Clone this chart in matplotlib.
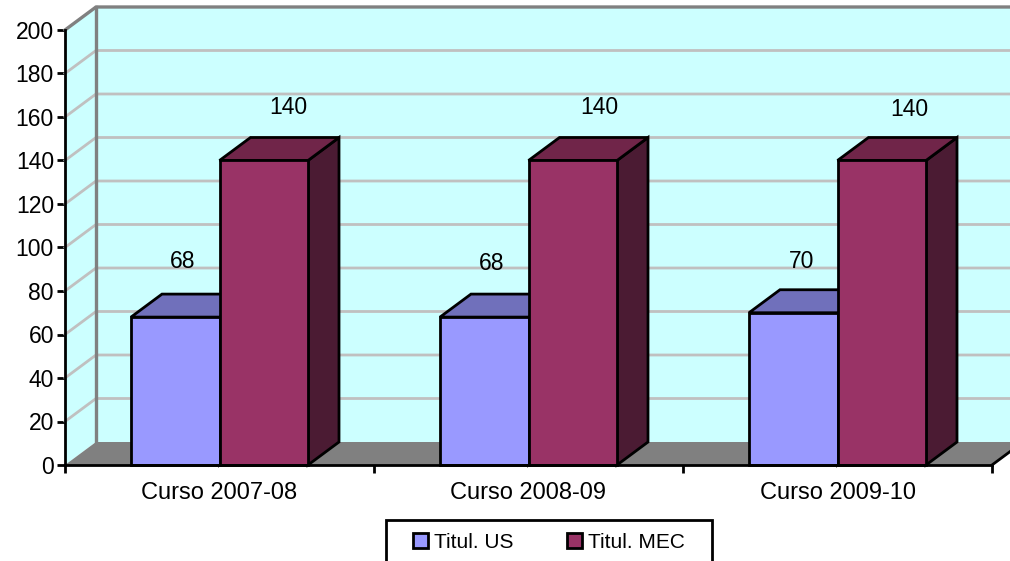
import matplotlib
matplotlib.use("Agg")
import matplotlib.pyplot as plt
from matplotlib.patches import Polygon, Patch, Rectangle

categories = ["Curso 2007-08", "Curso 2008-09", "Curso 2009-10"]
titul_us = [68, 68, 70]
titul_mec = [140, 140, 140]
y_ticks = list(range(0, 201, 20))

W, H = 1010, 561
plt.rcParams['font.family'] = ['Liberation Sans']
fig = plt.figure(figsize=(W / 100, H / 100), dpi=100)
ax = fig.add_axes([65 / W, 1 - 465 / H, (992 - 65) / W, (465 - 30) / H])
ax.set_xlim(0, 3)
ax.set_ylim(0, 200)
ax.patch.set_visible(False)
for s in ("top", "right"):
    ax.spines[s].set_visible(False)
for s in ("left", "bottom"):
    ax.spines[s].set_linewidth(2.0)
    ax.spines[s].set_zorder(8)

dx = 31 / 309      # depth in category units
dy = 23 / 2.175    # depth in value units
bw = 88.5 / 309
FS = 16.5
CY = "#CCFFFF"
GR = "#808080"
GL = "#C0C0C0"
PX = 0.72          # points per pixel at this dpi


def poly(pts, **kw):
    kw.setdefault("clip_on", False)
    p = Polygon(pts, closed=True, **kw)
    ax.add_patch(p)
    return p


# walls and floor
poly([(dx, dy), (3 + dx, dy), (3 + dx, 200 + dy), (dx, 200 + dy)], fc=CY, ec="none", zorder=1)
poly([(0, 0), (dx, dy), (dx, 200 + dy), (0, 200)], fc=CY, ec="none", zorder=1)
poly([(0, 0), (dx, dy), (3 + dx, dy), (3, 0)], fc=GR, ec="none", zorder=1)
for v in y_ticks[1:-1]:
    ax.plot([0, dx, 3 + dx], [v, v + dy, v + dy], color=GL, lw=2.0, clip_on=False, zorder=2)
ax.plot([0, dx, 3 + dx], [200, 200 + dy, 200 + dy], color=GR, lw=2.4, clip_on=False, zorder=2)
ax.plot([dx, dx], [dy, 200 + dy], color=GR, lw=2.4, zorder=2, clip_on=False)
ax.plot([3, 3 + dx], [0, dy], color="black", lw=2.0, clip_on=False, zorder=2)


def bar3d(x0, v, front, top, side, z):
    x1 = x0 + bw
    kw = dict(ec="black", lw=2.0, joinstyle="miter", zorder=z)
    poly([(x1, 0), (x1 + dx, dy), (x1 + dx, v + dy), (x1, v)], fc=side, **kw)
    poly([(x0, v), (x0 + dx, v + dy), (x1 + dx, v + dy), (x1, v)], fc=top, **kw)
    poly([(x0, 0), (x1, 0), (x1, v), (x0, v)], fc=front, **kw)


C_US = ("#9999FF", "#7070BB", "#55558C")
C_MEC = ("#993366", "#702549", "#4B1B33")
for i in range(3):
    c = i + 0.5
    bar3d(c - bw, titul_us[i], *C_US, 3)
    bar3d(c, titul_mec[i], *C_MEC, 4)

# pixel offsets of the data labels from the front top edge of their bar
us_off = [(0, 56), (0, 54), (1, 51)]
mec_off = [(9, 52.5), (11, 52.5), (12, 50.5)]
for i in range(3):
    c = i + 0.5
    ax.annotate(str(titul_us[i]), (c - bw / 2 + dx / 2, titul_us[i]),
                xytext=((us_off[i][0] - 8.3) * PX, us_off[i][1] * PX),
                textcoords="offset points", ha="center", va="center", fontsize=FS, zorder=9, annotation_clip=False)
    ax.annotate(str(titul_mec[i]), (c + bw / 2 + dx / 2, titul_mec[i]),
                xytext=(mec_off[i][0] * PX, mec_off[i][1] * PX),
                textcoords="offset points", ha="center", va="center", fontsize=FS, zorder=9, annotation_clip=False)

ax.set_yticks(y_ticks)
ax.set_xticks(range(4))
ax.set_xticklabels([])
ax.tick_params(axis="y", length=6, width=2.0, labelsize=FS, pad=2)
ax.tick_params(axis="x", length=6, width=2.0)
ax.set_xticks([i + 0.5 for i in range(3)], minor=True)
ax.set_xticklabels(categories, minor=True, fontsize=17)
ax.tick_params(axis="x", which="minor", length=0, pad=12.5)

# legend frame runs off the bottom of the picture
fig.add_artist(Rectangle((386 / W, 1 - 575 / H), (712 - 386) / W, 55 / H, transform=fig.transFigure,
                         fc="white", ec="black", lw=2.0))
handles = [Patch(fc=C_US[0], ec="black", lw=2.0, label="Titul. US"),
           Patch(fc=C_MEC[0], ec="black", lw=2.0, label="Titul. MEC")]
leg = fig.legend(handles=handles, ncol=2, loc="center left",
                 bbox_to_anchor=(413 / W, 1 - 542 / H), fontsize=15, frameon=False,
                 borderaxespad=0, borderpad=0,
                 handlelength=0.72, handleheight=0.72, handletextpad=0.3, columnspacing=2.55)

fig.savefig("out.png", dpi=100)
